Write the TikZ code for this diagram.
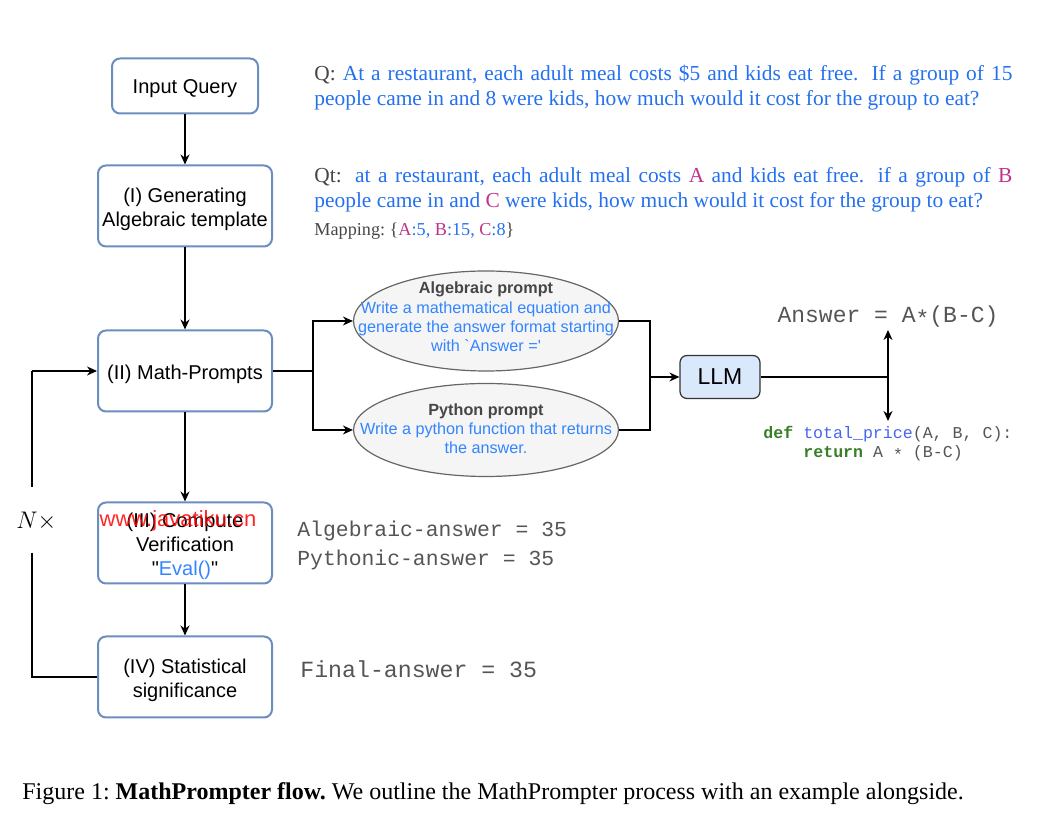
\documentclass[tikz,border=0pt]{standalone}
\usepackage{fontspec}
\setmainfont{Liberation Serif}
\setsansfont{Liberation Sans}
\setmonofont{Liberation Mono}
\usetikzlibrary{arrows.meta,shapes.geometric}
\definecolor{boxblue}{RGB}{108,142,191}
\definecolor{qblue}{RGB}{36,112,240}
\definecolor{promptblue}{RGB}{51,133,255}
\definecolor{magent}{RGB}{191,51,140}
\definecolor{txtgrey}{RGB}{70,70,70}
\definecolor{monogrey}{RGB}{85,85,85}
\definecolor{codegreen}{RGB}{56,128,40}
\definecolor{codeblue}{RGB}{70,100,240}
\definecolor{ellfill}{RGB}{245,245,245}
\definecolor{ellline}{RGB}{102,102,102}
\definecolor{llmfill}{RGB}{218,232,252}
\newcommand{\lowstar}{\raisebox{-0.3ex}{*}}
\frenchspacing
\begin{document}
\begin{tikzpicture}[x=0.5pt,y=-0.5pt,
  flowbox/.style={draw=boxblue, line width=1pt, rounded corners=4pt, fill=white,
    minimum width=87pt, minimum height=40.5pt, inner sep=0pt},
  boxtext/.style={align=center, inner sep=0pt, yshift=-1.5pt,
    font=\sffamily\fontsize{10}{12}\selectfont},
  ellbox/.style={ellipse, draw=ellline, line width=0.6pt, fill=ellfill, inner sep=0pt,
    minimum width=132.5pt},
  elltext/.style={align=center, text=promptblue, font=\sffamily\fontsize{8.1}{9.6}\selectfont, inner sep=0pt},
  arr/.style={draw=black, line width=0.7pt, -{Stealth[length=5pt,width=4.5pt]}},
  ln/.style={draw=black, line width=0.7pt},
  serif/.style={inner sep=0pt, anchor=base west, font=\fontsize{10.7}{12.5}\selectfont, text=qblue},
  monotxt/.style={inner sep=0pt, anchor=base west, text=monogrey, font=\ttfamily\fontsize{10.7}{13}\selectfont},
  codetxt/.style={inner sep=0pt, anchor=base west, text=monogrey, font=\ttfamily\fontsize{8.3}{10}\selectfont}
]
\useasboundingbox (0,0) rectangle (1046,822);

% flow boxes
\node[flowbox, minimum width=73pt, minimum height=27.5pt, label={[boxtext]center:Input Query}] (iq) at (185,86) {};
\node[flowbox, label={[boxtext]center:(I) Generating\\Algebraic template}] (gen) at (185,206) {};
\node[flowbox, label={[boxtext]center:(II) Math-Prompts}] (mp) at (185,371) {};
\node[flowbox, label={[boxtext]center:(III) Compute\\Verification\\\textquotedbl\textcolor{promptblue}{Eval()}\textquotedbl}] (cv) at (185,543) {};
\node[flowbox, label={[boxtext]center:(IV) Statistical\\significance}] (st) at (185,677) {};

\draw[arr] (iq) -- (gen);
\draw[arr] (gen) -- (mp);
\draw[arr] (mp) -- (cv);
\draw[arr] (cv) -- (st);

% loop
\coordinate (loopTop) at (32,371);
\coordinate (loopA) at (32,487);
\coordinate (loopB) at (32,553);
\draw[arr] (loopTop) -- (mp.west);
\draw[ln] (loopA) -- (loopTop);
\draw[ln] (loopB) |- (st.west);
\node[inner sep=0pt, anchor=base west, font=\fontsize{12.5}{14}\selectfont] (nx) at (16,529) {$N\times$};

% watermark
\node[inner sep=0pt, text=red, opacity=0.85, font=\sffamily\fontsize{11}{12}\selectfont] (wm) at (178,521) {www.javatiku.cn};

% prompts
\node[ellbox, minimum height=50pt] (alg) at (486,321) {};
\node[elltext] (algt) at (486,317) {\textcolor{txtgrey}{\bfseries Algebraic prompt}\\Write a mathematical equation and\\generate the answer format starting\\with \textasciigrave Answer =\textquotesingle};
\node[ellbox, minimum height=46.5pt] (py) at (486,430) {};
\node[elltext] (pyt) at (486,429) {\textcolor{txtgrey}{\bfseries Python prompt}\\Write a python function that returns\\the answer.};

\coordinate (split) at (313,371);
\draw[ln] (mp.east) -- (split);
\draw[arr] (split) |- (alg.west);
\draw[arr] (split) |- (py.west);

\node[draw=black!80, line width=0.6pt, fill=llmfill, rounded corners=3.5pt, minimum width=40pt, minimum height=21.5pt,
  inner sep=0pt, font=\sffamily\fontsize{11.5}{13}\selectfont] (llm) at (720,377) {LLM};
\coordinate (join) at (650,377);
\draw[ln] (alg.east) -| (join);
\draw[ln] (py.east) -| (join);
\draw[arr] (join) -- (llm.west);

\coordinate (fork) at (888,377);
\coordinate (ansTip) at (888,330);
\coordinate (codeTip) at (888,421);
\draw[ln] (llm.east) -- (fork);
\draw[arr] (fork) -- (ansTip);
\draw[arr] (fork) -- (codeTip);

\node[inner sep=0pt, anchor=base, text=monogrey, font=\ttfamily\fontsize{11.5}{13}\selectfont] (ans) at (888,323) {Answer = A\lowstar(B-C)};
\node[codetxt] (code1) at (763,439) {\textcolor{codegreen}{\bfseries def} \textcolor{codeblue}{total\_price}(A, B, C):};
\node[codetxt] (code2) at (803,458) {\textcolor{codegreen}{\bfseries return} A \lowstar{} (B-C)};

% query texts
\node[serif] (q1) at (314,81) {\makebox[349pt][s]{\textcolor{txtgrey}{Q:} At a restaurant, each adult meal costs \$5 and kids eat free.\hspace{3pt} If a group of 15}};
\node[serif] (q2) at (314,106) {people came in and 8 were kids, how much would it cost for the group to eat?};
\node[serif] (qt1) at (314,183) {\makebox[349pt][s]{\textcolor{txtgrey}{Qt:}\hspace{3pt} at a restaurant, each adult meal costs \textcolor{magent}{A} and kids eat free.\hspace{3pt} if a group of \textcolor{magent}{B}}};
\node[serif] (qt2) at (314,208) {people came in and \textcolor{magent}{C} were kids, how much would it cost for the group to eat?};
\node[serif, text=txtgrey, font=\fontsize{9.1}{11}\selectfont] (map) at (314,236) {Mapping: \{\textcolor{magent}{A}\textcolor{qblue}{:5,} \textcolor{magent}{B}\textcolor{qblue}{:15,} \textcolor{magent}{C}\textcolor{qblue}{:8}\}};

% answers
\node[monotxt] (aa) at (297,537) {Algebraic-answer = 35};
\node[monotxt] (pa) at (297,566) {Pythonic-answer = 35};
\node[monotxt, font=\ttfamily\fontsize{11.6}{13}\selectfont] (fa) at (300,678) {Final-answer = 35};

% caption
\node[inner sep=0pt, anchor=base west, font=\fontsize{12}{14}\selectfont] (cap) at (22,800) {Figure 1: \textbf{MathPrompter flow.} We outline the MathPrompter process with an example alongside.};
\end{tikzpicture}
\end{document}
